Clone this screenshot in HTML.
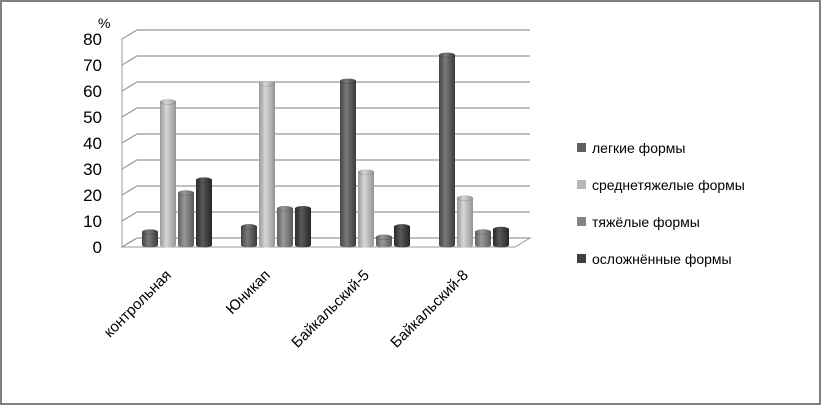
<!DOCTYPE html>
<html><head><meta charset="utf-8"><style>
body{margin:0;background:#fff;}
svg{display:block;font-family:"Liberation Sans","DejaVu Sans",sans-serif;}
</style></head><body>
<svg id="chart" width="823" height="406" viewBox="0 0 823 406" xmlns="http://www.w3.org/2000/svg">
<defs>
<linearGradient id="g0" x1="0" x2="1"><stop offset="0" stop-color="#444"/><stop offset="0.4" stop-color="#7a7a7a"/><stop offset="1" stop-color="#3a3a3a"/></linearGradient>
<linearGradient id="g1" x1="0" x2="1"><stop offset="0" stop-color="#999"/><stop offset="0.4" stop-color="#d6d6d6"/><stop offset="1" stop-color="#959595"/></linearGradient>
<linearGradient id="g2" x1="0" x2="1"><stop offset="0" stop-color="#606060"/><stop offset="0.4" stop-color="#999"/><stop offset="1" stop-color="#5a5a5a"/></linearGradient>
<linearGradient id="g3" x1="0" x2="1"><stop offset="0" stop-color="#2a2a2a"/><stop offset="0.4" stop-color="#5a5a5a"/><stop offset="1" stop-color="#262626"/></linearGradient>
</defs>
<rect x="1" y="1" width="819" height="403" fill="#fff" stroke="#808080" stroke-width="2"/>
<g id="grid"></g><g id="bars"></g><g id="labels"></g>
<text x="98" y="28" font-size="14">%</text>
<g font-size="14" fill="#000">
<rect x="577" y="143" width="9" height="9" fill="#606060"/>
<text x="592" y="153">легкие формы</text>
<rect x="577" y="180" width="9" height="9" fill="#b8b8b8"/>
<text x="592" y="190">среднетяжелые формы</text>
<rect x="577" y="217" width="9" height="9" fill="#858585"/>
<text x="592" y="227">тяжёлые формы</text>
<rect x="577" y="254" width="9" height="9" fill="#404040"/>
<text x="592" y="264">осложнённые формы</text>
</g>
</svg>
<script>
const categories=["контрольная","Юникап","Байкальский-5","Байкальский-8"];
const lightForms=[5,7,63,73];
const mediumForms=[55,62,28,18];
const severeForms=[20,14,3,5];
const complicatedForms=[25,14,7,6];
const yTicks=[0,10,20,30,40,50,60,70,80];
const series=[lightForms,mediumForms,severeForms,complicatedForms];
const seriesNames=["light","medium","severe","complicated"];
const NS="http://www.w3.org/2000/svg";
function mk(t,a,p){const e=document.createElementNS(NS,t);for(const k in a)e.setAttribute(k,a[k]);p.appendChild(e);return e;}
const backY=v=>238-v*2.6;
const barBaseY=245, barScale=2.6;
const barY=v=>barBaseY-v*barScale;
const groupX=i=>150+i*99;
const grid=document.getElementById('grid'),bars=document.getElementById('bars'),labels=document.getElementById('labels');
let fl=mk('polygon',{points:"137,238 530,238 515,247 122,247",fill:"#fff",stroke:"#999","stroke-width":1},grid);

let ax=mk('line',{x1:122,y1:247,x2:122,y2:backY(80)+9,stroke:"#999"},grid);

yTicks.forEach(v=>{
  const y=backY(v);
  let g=mk('polyline',{points:`122,${y+9} 137,${y} 530,${y}`,fill:"none",stroke:"#999","stroke-width":1.2},grid);
  
  let t=mk('text',{x:102,y:y+15,"text-anchor":"end","font-size":17},labels);t.textContent=v;
  
});
categories.forEach((c,i)=>{
  series.forEach((s,j)=>{
    const cx=groupX(i)+j*18, w=16, top=barY(s[i]);
    let g=mk('g',{},bars);
    
    mk('path',{d:`M${cx-w/2},${top} L${cx-w/2},${barBaseY} A${w/2},2.5 0 0 0 ${cx+w/2},${barBaseY} L${cx+w/2},${top} Z`,fill:`url(#g${j})`},g);
    mk('ellipse',{cx:cx,cy:top,rx:w/2,ry:2.5,fill:`url(#g${j})`,stroke:"rgba(0,0,0,0.25)","stroke-width":0.5},g);
  });
  const ex=groupX(i)+22, ey=276;
  let t=mk('text',{x:ex,y:ey,"text-anchor":"end","font-size":15,transform:`rotate(-45 ${ex} ${ey})`},labels);
  t.textContent=c;
  
});
</script>
</body></html>
